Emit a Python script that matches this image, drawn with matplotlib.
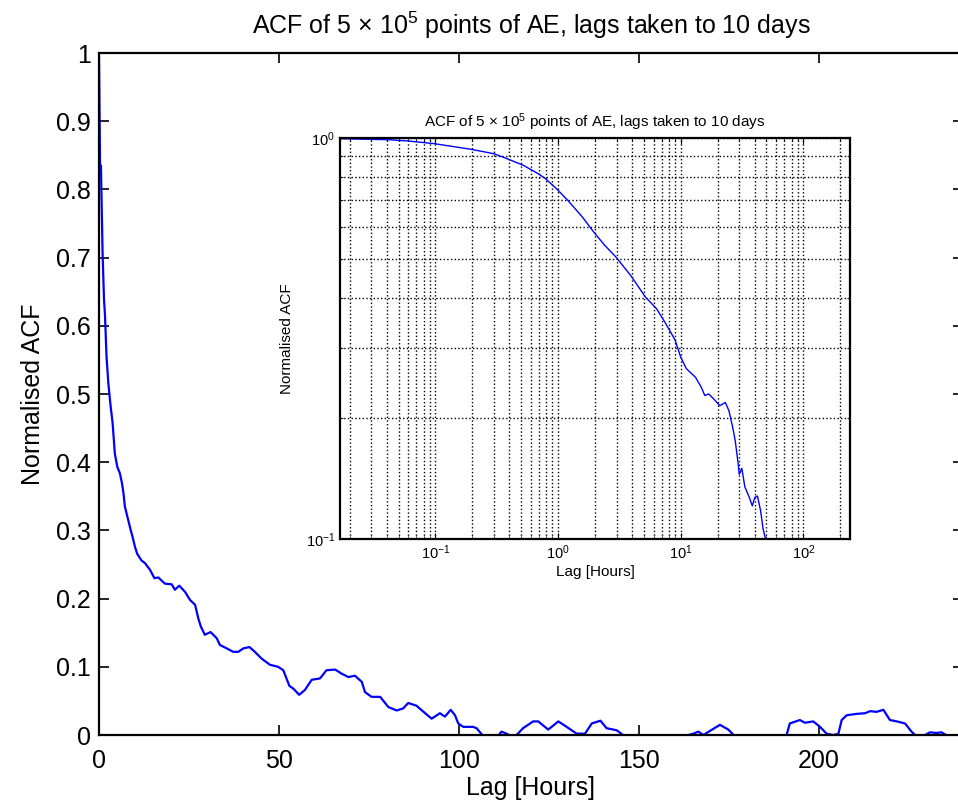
import matplotlib

matplotlib.use("Agg")
import matplotlib.pyplot as plt
from matplotlib.ticker import LogLocator, NullFormatter

# main panel: ACF (lag in hours)
main_lag = [0.0, 0.3, 0.55, 1.0, 1.4, 1.67, 2.1, 2.6, 3.2, 3.8, 4.4, 5.1, 5.8, 6.4,
            6.8, 7.2, 7.9, 8.6, 9.4, 10.0, 10.6, 11.8, 12.8, 14.2, 15.4, 16.5, 18.3,
            20.2, 21.1, 22.3, 23.9, 25.3, 26.7, 27.6, 28.3, 29.4, 31.0, 32.7, 33.6,
            35.5, 37.3, 38.7, 40.1, 41.8, 43.3, 45.2, 47.5, 49.8, 51.2, 52.1, 52.9,
            54.0, 55.6, 57.2, 59.1, 61.4, 63.2, 65.6, 67.4, 69.3, 71.1, 73.0, 73.9,
            75.7, 78.1, 80.4, 82.7, 84.5, 85.9, 88.2, 90.6, 92.4, 94.7, 96.1, 97.7,
            98.9, 99.8, 101.2, 103.9, 104.9, 106.8, 108.5, 110.5, 111.8, 113.2,
            114.6, 116.0, 117.8, 120.6, 122.0, 124.8, 127.6, 129.9, 132.7, 135.0,
            136.9, 139.3, 141.0, 143.8, 145.6, 150.0, 156.0, 161.0, 163.7, 165.1,
            166.5, 167.9, 169.4, 172.5, 174.8, 176.7, 180.0, 186.0, 191.0, 191.9,
            194.7, 196.1, 198.4, 200.3, 202.1, 204.0, 205.4, 206.3, 207.7, 210.4,
            212.8, 214.2, 216.0, 217.9, 219.7, 221.6, 223.9, 225.7, 227.1, 228.5,
            229.5, 230.8, 232.7, 234.0, 236.0, 238.0]
main_acf = [1.0, 0.835, 0.835, 0.708, 0.638, 0.616, 0.555, 0.516, 0.484, 0.457, 0.413,
            0.393, 0.384, 0.369, 0.355, 0.335, 0.320, 0.305, 0.289, 0.276, 0.266,
            0.256, 0.252, 0.242, 0.230, 0.231, 0.222, 0.221, 0.213, 0.219, 0.210,
            0.198, 0.191, 0.171, 0.159, 0.147, 0.151, 0.142, 0.132, 0.127, 0.122,
            0.122, 0.127, 0.129, 0.122, 0.112, 0.103, 0.100, 0.095, 0.083, 0.072,
            0.068, 0.059, 0.066, 0.081, 0.083, 0.095, 0.096, 0.090, 0.085, 0.087,
            0.078, 0.063, 0.056, 0.056, 0.041, 0.036, 0.039, 0.047, 0.043, 0.032,
            0.024, 0.032, 0.027, 0.037, 0.029, 0.017, 0.012, 0.012, 0.010, -0.002,
            -0.008, -0.004, 0.005, 0.002, -0.002, 0.0, 0.010, 0.020, 0.020, 0.008,
            0.020, 0.012, 0.002, 0.002, 0.017, 0.021, 0.010, 0.007, 0.0, -0.010,
            -0.015, -0.008, 0.0, 0.002, 0.005, 0.0, 0.005, 0.015, 0.008, -0.002,
            -0.012, -0.010, 0.0, 0.017, 0.022, 0.018, 0.020, 0.012, 0.002, 0.0,
            0.002, 0.022, 0.029, 0.031, 0.032, 0.035, 0.034, 0.037, 0.022, 0.020,
            0.017, 0.005, -0.002, -0.004, 0.0, 0.004, 0.003, 0.004, -0.002, -0.006]

# inset: same ACF on log-log axes
inset_lag = [1 / 60, 0.0425, 0.060, 0.098, 0.196, 0.298, 0.367, 0.52, 0.687, 0.789,
             0.972, 1.20, 1.58, 1.95, 2.40, 2.96, 3.91, 5.16, 6.36, 7.57, 9.01, 10.0,
             11.1, 13.2, 14.7, 15.7, 16.9, 18.7, 20.8, 23.1, 24.7, 26.5, 27.8, 29.4,
             30.0, 31.5, 33.3, 36.2, 38.3, 40.2, 42.2, 44.7, 46.9, 49.5, 52.0]
inset_acf = [0.996, 0.990, 0.983, 0.968, 0.937, 0.914, 0.893, 0.855, 0.815, 0.792,
             0.747, 0.699, 0.635, 0.583, 0.540, 0.505, 0.454, 0.401, 0.375, 0.344,
             0.313, 0.284, 0.266, 0.253, 0.239, 0.228, 0.230, 0.223, 0.215, 0.219,
             0.209, 0.190, 0.176, 0.154, 0.145, 0.150, 0.135, 0.127, 0.121, 0.127,
             0.128, 0.118, 0.106, 0.099, 0.094]

main_xticks = [0, 50, 100, 150, 200]
main_yticks = [0, 0.1, 0.2, 0.3, 0.4, 0.5, 0.6, 0.7, 0.8, 0.9, 1]
main_ylabels = ["0", "0.1", "0.2", "0.3", "0.4", "0.5", "0.6", "0.7", "0.8", "0.9", "1"]
title = "ACF of 5 \u00d7 10$^{5}$ points of AE, lags taken to 10 days"

plt.rcParams["font.family"] = ["Liberation Sans", "DejaVu Sans"]
plt.rcParams["mathtext.fontset"] = "custom"
plt.rcParams["mathtext.rm"] = "Liberation Sans"
plt.rcParams["mathtext.default"] = "regular"
plt.rcParams["axes.unicode_minus"] = False

fig = plt.figure(figsize=(9.58, 8.08), dpi=100)

ax = fig.add_axes([0.1033, 0.0903, 0.9019, 0.8441])
ax.plot(main_lag, main_acf, color="#0000ff", lw=1.6)
ax.set_xlim(0, 240)
ax.set_ylim(0, 1)
ax.set_xticks(main_xticks)
ax.set_yticks(main_yticks)
ax.set_yticklabels(main_ylabels)
ax.tick_params(direction="in", top=True, right=True, length=7, width=1.2,
               labelsize=18)
ax.tick_params(axis="x", pad=10)
ax.tick_params(axis="y", pad=6)
for s in ax.spines.values():
    s.set_linewidth(1.6)
ax.set_xlabel("Lag [Hours]", fontsize=18, labelpad=2)
ax.set_ylabel("Normalised ACF", fontsize=18, labelpad=8)
ax.set_title(title, fontsize=18, pad=14)

ins = fig.add_axes([0.3549, 0.3329, 0.5324, 0.4963])
ins.loglog(inset_lag, inset_acf, color="#0000ff", lw=1.0)
ins.set_xlim(1 / 60, 240)
ins.set_ylim(0.1, 1)
ins.xaxis.set_major_locator(LogLocator(base=10, numticks=10))
ins.xaxis.set_minor_locator(LogLocator(base=10, subs=range(2, 10), numticks=20))
ins.yaxis.set_minor_locator(LogLocator(base=10, subs=range(2, 10), numticks=20))
ins.xaxis.set_minor_formatter(NullFormatter())
ins.yaxis.set_minor_formatter(NullFormatter())
ins.grid(True, which="both", color="black", linestyle=":", linewidth=1.0)
ins.tick_params(which="both", direction="in", top=True, right=True, labelsize=10.5)
ins.tick_params(which="major", length=4)
ins.tick_params(which="minor", length=2.5)
for s in ins.spines.values():
    s.set_linewidth(1.6)
ins.set_xlabel("Lag [Hours]", fontsize=11, labelpad=2)
ins.set_ylabel("Normalised ACF", fontsize=11, labelpad=8)
ins.set_title(title, fontsize=11, pad=8)

fig.savefig("out.png", dpi=100)
